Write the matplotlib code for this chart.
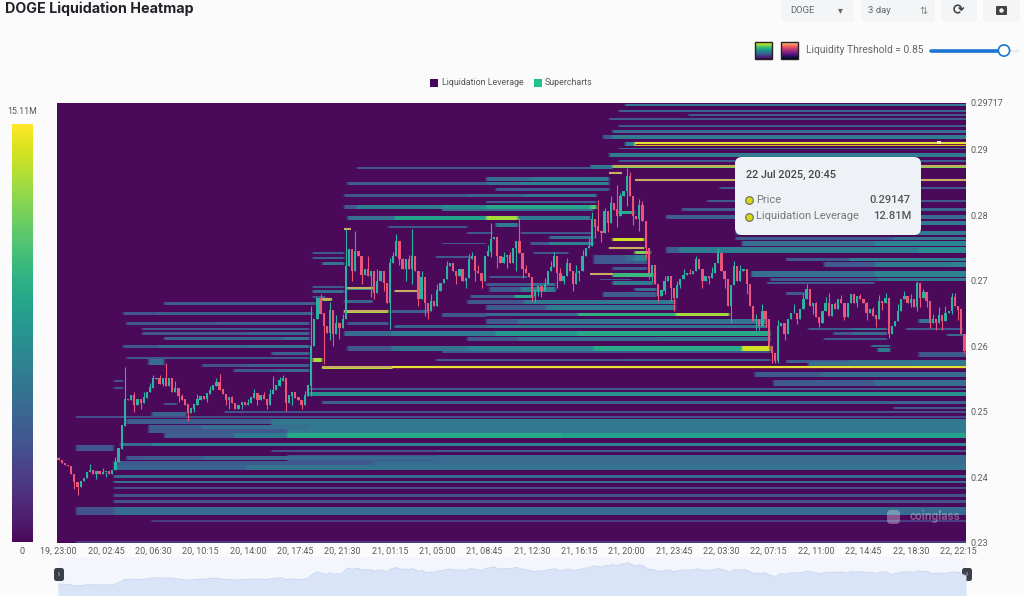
import numpy as np
import matplotlib
matplotlib.use("Agg")
import matplotlib.pyplot as plt
from matplotlib.patches import FancyBboxPatch, Rectangle, Circle

W, H = 1024, 596
FONT = "Roboto"
plt.rcParams["font.family"] = [FONT, "DejaVu Sans"]

# ---------- data ----------
closes = [
 .2426,.2422,.2419,.2417,.2405,.2393,.2385,.2394,.2399,.2408,.2411,.2406,.2409,.2405,.2408,.2409,.2405,.2411,.2423,.2444,.2479,
 .2520,.2518,.2526,.2510,.2520,.2513,.2522,.2530,.2537,.2551,
 .2552,.2542,.2552,.2540,.2551,.2530,.2536,.2524,.2519,.2511,
 .2498,.2505,.2511,.2519,.2524,.2520,.2528,.2533,.2540,.2545,
 .2534,.2527,.2519,.2522,.2513,.2505,.2510,.2514,.2510,.2513,
 .2522,.2528,.2519,.2525,.2520,.2511,.2527,.2533,.2540,.2548,
 .2551,.2514,.2525,.2530,.2522,.2518,.2511,.2525,.2540,.2601,
 .2642,.2674,.2650,.2631,.2621,.2655,.2619,.2636,.2628,.2642,
 .2723,.2748,.2715,.2745,.2738,.2709,.2718,.2707,.2715,.2682,
 .2700,.2715,.2697,.2666,.2727,.2738,.2761,.2733,.2718,.2733,
 .2718,.2738,.2715,.2672,.2706,.2666,.2654,.2669,.2662,.2685,
 .2697,.2703,.2723,.2727,.2715,.2707,.2718,.2700,.2704,.2733,
 .2738,.2715,.2712,.2700,.2738,.2745,.2764,.2767,.2738,.2727,
 .2736,.2739,.2727,.2750,.2761,.2742,.2718,.2712,.2706,.2677,
 .2685,.2692,.2685,.2695,.2715,.2721,.2738,.2712,.2700,.2707,
 .2727,.2715,.2695,.2712,.2715,.2738,.2750,.2753,.2794,.2783,
 .2776,.2773,.2806,.2788,.2818,.2809,.2799,.2829,.2837,.2859,
 .2829,.2799,.2794,.2815,.2791,.2750,.2712,.2724,.2695,.2677,
 .2685,.2700,.2707,.2689,.2674,.2694,.2703,.2709,.2712,.2710,
 .2715,.2733,.2718,.2700,.2707,.2704,.2712,.2727,.2742,.2715,
 .2703,.2662,.2694,.2723,.2700,.2715,.2718,.2695,.2662,.2639,
 .2642,.2631,.2654,.2642,.2601,.2590,.2578,.2631,.2636,.2619,
 .2642,.2651,.2651,.2642,.2657,.2672,.2688,.2662,.2666,.2645,
 .2636,.2654,.2666,.2647,.2665,.2657,.2672,.2666,.2645,.2666,
 .2680,.2666,.2677,.2672,.2666,.2651,.2657,.2647,.2642,.2669,
 .2666,.2674,.2619,.2631,.2639,.2654,.2672,.2677,.2666,.2672,
 .2660,.2697,.2674,.2682,.2669,.2636,.2642,.2636,.2648,.2639,
 .2651,.2654,.2675,.2662,.2656,.2619,.2593]
first_open = .2430

high_bars   = [0,21,30,34,37,51,68,71,80,83,91,94,98,101,105,107,112,115,130,131,137,146,150,157,169,171,175,177,180,181,185,187,190,202,209,214,225,228,237,243,254,272,283,
 10,14,18,24,27,29,32,36,39,44,48,50,55,60,62,65,67,70,75,78,86,88,90,93,96,100,103,106,109,111,113,118,120,123,125,128,133,136,139,141,143,148,154,156,159,161,164,166,168,173,178,184,189,192,196,198,200,203,207,211,216,218,221,223,230,233,236,240,244,246,248,252,256,258,260,262,266,268,270,274,277,279,281,284,286]
high_prices = [.2432,.2568,.2557,.2575,.2548,.2558,.2555,.2556,.2662,.2680,.2779,.2776,.2738,.2718,.2735,.2771,.2779,.2715,.2741,.2745,.2788,.2796,.2698,.2745,.2805,.2824,.2830,.2847,.2872,.2866,.2822,.2735,.2690,.2738,.2750,.2730,.2620,.2640,.2695,.2675,.2680,.2700,.2682,
 .2420,.2415,.2432,.2530,.2530,.2545,.2556,.2545,.2528,.2527,.2540,.2552,.2525,.2520,.2535,.2530,.2535,.2553,.2530,.2532,.2668,.2648,.2650,.2740,.2730,.2700,.2710,.2745,.2735,.2740,.2735,.2680,.2695,.2730,.2725,.2715,.2725,.2755,.2755,.2745,.2745,.2725,.2705,.2730,.2720,.2735,.2725,.2748,.2765,.2812,.2835,.2825,.2705,.2708,.2700,.2718,.2718,.2725,.2722,.2715,.2725,.2718,.2650,.2665,.2630,.2665,.2680,.2668,.2682,.2668,.2678,.2676,.2668,.2660,.2678,.2682,.2665,.2684,.2680,.2688,.2650,.2660,.2662,.2682,.2640]
low_bars    = [5,6,21,41,54,72,80,84,87,89,91,96,100,105,114,116,117,137,145,151,152,170,172,177,184,187,190,195,213,222,225,227,228,241,263,272,276,287,
 9,12,15,24,26,33,38,43,47,53,58,63,66,74,77,86,93,99,103,108,110,112,118,120,126,129,132,134,139,142,147,150,153,158,160,163,165,174,180,182,186,188,192,194,197,204,206,211,218,221,224,226,230,234,239,242,245,249,253,256,259,261,264,266,270,273,275,278,280,283,285]
low_prices  = [.2382,.2373,.2480,.2487,.2505,.2501,.2525,.2574,.2600,.2612,.2644,.2695,.2672,.2627,.2662,.2647,.2642,.2736,.2715,.2668,.2677,.2765,.2760,.2783,.2776,.2703,.2670,.2654,.2636,.2625,.2595,.2575,.2575,.2630,.2613,.2654,.2628,.2590,
 .2400,.2398,.2400,.2500,.2505,.2540,.2515,.2500,.2515,.2510,.2505,.2510,.2505,.2510,.2505,.2610,.2700,.2675,.2685,.2725,.2700,.2695,.2655,.2675,.2695,.2690,.2700,.2690,.2720,.2720,.2705,.2670,.2675,.2690,.2695,.2685,.2700,.2775,.2815,.2785,.2735,.2700,.2680,.2670,.2690,.2690,.2695,.2690,.2680,.2625,.2630,.2575,.2610,.2635,.2650,.2640,.2650,.2640,.2660,.2640,.2630,.2655,.2620,.2640,.2660,.2660,.2660,.2625,.2625,.2650,.2640]

# heat bands: (price, price span, last bar, [(first bar, leverage in M), ...])
bands_top = [
 (.2969,.0002,288,[(180,6)]),
 (.2960,.0002,288,[(178,4.5)]),
 (.2954,.0002,288,[(200,4)]),
 (.2948,.0002,288,[(175,4)]),
 (.2937,.0002,288,[(178,4)]),
 (.2929,.0003,288,[(176,5)]),
 (.2920,.0005,288,[(173,4),(176,6)]),
 (.2910,.0004,288,[(180,6.5),(183,14.5)]),
 (.2903,.0002,288,[(178,5)]),
 (.2893,.0004,288,[(175,6)]),
 (.2884,.0002,288,[(178,4)]),
 (.2876,.0004,288,[(169,6),(176,12)]),
 (.2843,.0002,288,[(210,4)]),
 (.2823,.0002,288,[(206,4)]),
 (.2810,.0003,288,[(198,4),(265,4.8)]),
 (.2799,.0005,288,[(193,4.2),(265,4.8)]),
 (.2789,.0006,288,[(215,4),(265,6)]),
 (.2774,.0004,288,[(215,4),(265,6)]),
 (.2766,.0003,288,[(215,4),(265,5.5)]),
 (.2758,.0007,288,[(217,5.2),(259,6.5)]),
 (.2748,.0008,288,[(193,4.2),(197,6),(273,7)]),
]
bands_right = [
 (.2733,.0004,288,[(231,4),(251,6.3)]),
 (.2726,.0006,288,[(243,4),(259,6),(283,6.5)]),
 (.2712,.0008,288,[(220,5.2),(259,6.6)]),
 (.2703,.0004,288,[(226,4),(260,6)]),
 (.2698,.0002,259,[(225,4.2)]),
 (.2682,.0003,237,[(231,4)]),
 (.2628,.0002,263,[(238,4),(252,5.5)]),
 (.2621,.0003,263,[(246,4),(252,5)]),
 (.2612,.0002,263,[(243,4)]),
 (.2601,.0002,264,[(258,5)]),
 (.2596,.0005,264,[(260,6)]),
 (.2640,.0005,277,[(273,5.5)]),
 (.2627,.0002,287,[(269,4)]),
 (.2618,.0002,287,[(282,5)]),
 (.2589,.0007,288,[(273,4)]),
 (.2578,.0003,288,[(231,4),(251,5.5)]),
 (.2574,.0006,288,[(238,5.5),(270,6)]),
]
bands_low = [
 (.2481,.0018,288,[(68,5.5)]),
 (.2424,.0020,288,[(73,3.8),(120,4.8)]),
 (.2568,.0003,288,[(84,13.5)]),
 (.2558,.0006,288,[(221,4),(242,5)]),
 (.2545,.0008,288,[(227,4),(259,5.3)]),
 (.2536,.0003,288,[(80,4)]),
 (.2528,.0006,288,[(80,7.5)]),
 (.2515,.0003,288,[(84,4.5)]),
 (.2507,.0002,288,[(265,3.8)]),
 (.2501,.0002,288,[(53,3.5)]),
 (.2493,.0002,288,[(6,3.2)]),
 (.2486,.0007,288,[(22,4.2),(68,5.8)]),
 (.2478,.0006,288,[(29,4.3),(46,5.3),(80,6)]),
 (.2472,.0005,288,[(29,4),(73,5.8)]),
 (.2465,.0006,288,[(34,4.2),(56,6),(73,9),(160,8.5)]),
 (.2451,.0004,288,[(20,5),(30,6.5)]),
 (.2446,.0008,18,[(6,3.7)]),
 (.2441,.0003,288,[(68,3.5),(120,4)]),
 (.2431,.0005,288,[(22,3.8),(27,4.2),(46,5)]),
 (.2423,.0004,288,[(18,4),(100,5)]),
 (.2416,.0008,288,[(18,4.5),(60,5.5)]),
 (.2402,.0003,288,[(18,5)]),
 (.2394,.0003,288,[(18,5.2)]),
 (.2385,.0002,288,[(18,3.5)]),
 (.2373,.0003,288,[(18,3.5)]),
 (.2364,.0003,288,[(18,3.5)]),
 (.2350,.0011,288,[(6,3.5),(18,5)]),
 (.2335,.0002,288,[(30,2.5)]),
 (.2303,.0002,288,[(6,2.5)]),
]
bands_left = [
 (.2744,.0002,91,[(81,4)]),
 (.2736,.0002,91,[(81,4.2)]),
 (.2727,.0004,91,[(84,5.5)]),
 (.2691,.0002,91,[(81,4)]),
 (.2685,.0003,91,[(81,5)]),
 (.2677,.0002,85,[(81,3.8)]),
 (.2666,.0003,82,[(34,4.3)]),
 (.2651,.0004,81,[(21,3.7),(32,4.5)]),
 (.2636,.0003,80,[(22,3.8),(50,4.2)]),
 (.2628,.0002,80,[(27,4)]),
 (.2621,.0003,80,[(27,3.8),(60,4.6)]),
 (.2613,.0004,80,[(34,4.5),(72,5.5)]),
 (.2601,.0003,80,[(21,3.8),(32,5),(60,5.5)]),
 (.2590,.0003,80,[(68,4.5)]),
 (.2583,.0003,80,[(22,3.8)]),
 (.2577,.0008,34,[(29,5)]),
 (.2572,.0003,80,[(46,3.5),(60,4.2)]),
 (.2564,.0003,80,[(56,4),(70,4.8)]),
 (.2580,.0004,84,[(81,13)]),
 (.2498,.0006,41,[(30,4.5)]),
 (.2513,.0002,38,[(34,3.8)]),
 (.2548,.0002,21,[(18,3.5)]),
 (.2538,.0002,21,[(18,3.5)]),
]
bands_upper_mid = [
 (.2873,.0003,176,[(95,3.8),(169,5.5)]),
 (.2856,.0005,175,[(136,5),(150,6)]),
 (.2850,.0003,175,[(92,4.2),(136,5.5),(147,6.5)]),
 (.2840,.0003,175,[(139,4)]),
 (.2831,.0004,171,[(91,3.8),(130,4.5),(148,5.5)]),
 (.2821,.0002,171,[(136,4)]),
 (.2814,.0005,171,[(91,4),(95,6.2),(122,7.2),(136,8.8),(169,11)]),
 (.2809,.0003,170,[(122,5)]),
 (.2797,.0006,146,[(92,5.2),(107,8.5),(136,13)]),
 (.2797,.0006,169,[(146,6)]),
 (.2783,.0002,130,[(105,3.8)]),
 (.2786,.0006,146,[(139,6)]),
 (.2774,.0002,138,[(130,3.8)]),
 (.2774,.0002,170,[(147,3.8)]),
 (.2767,.0003,170,[(156,5)]),
 (.2758,.0002,136,[(122,3.8)]),
 (.2758,.0005,170,[(150,4),(156,6.5)]),
 (.2744,.0002,162,[(151,3.8)]),
 (.2737,.0002,131,[(120,4)]),
]
bands_lower_mid = [
 (.2707,.0002,149,[(137,4)]),
 (.2695,.0003,158,[(136,3.8),(150,5)]),
 (.2688,.0006,158,[(137,3.8),(147,6)]),
 (.2677,.0003,151,[(131,4),(145,9)]),
 (.2669,.0005,196,[(130,3.8),(148,6)]),
 (.2660,.0006,196,[(136,4),(155,6)]),
 (.2650,.0004,213,[(122,3.8),(136,5),(165,9.5),(196,13)]),
 (.2639,.0007,225,[(136,4),(146,5.5)]),
 (.2631,.0004,225,[(107,4.5),(136,5.5)]),
 (.2621,.0007,226,[(91,5),(106,6),(139,8),(165,9)]),
 (.2612,.0004,226,[(130,3.8),(146,5),(190,5.5)]),
 (.2598,.0006,226,[(92,3.8),(106,5.5),(130,6.5),(170,9),(217,14)]),
 (.2592,.0002,226,[(122,3.8)]),
 (.2580,.0003,226,[(120,3.8),(180,4.5)]),
]
bands_stubs = [
 (.2764,.0003,186,[(176,14)]),
 (.2751,.0003,186,[(175,12)]),
 (.2744,.0004,188,[(183,12)]),
 (.2736,.0008,187,[(170,3.8),(180,5),(183,6.5)]),
 (.2729,.0003,187,[(170,4)]),
 (.2720,.0003,187,[(176,4)]),
 (.2710,.0004,189,[(176,10)]),
 (.2703,.0002,182,[(172,3.8)]),
 (.2697,.0005,189,[(176,6)]),
 (.2688,.0003,190,[(183,5)]),
 (.2680,.0007,190,[(173,4.2)]),
 (.2805,.0004,183,[(178,9)]),
 (.2689,.0002,100,[(92,7)]),
 (.2669,.0003,100,[(91,4.5)]),
 (.2654,.0003,105,[(91,13)]),
 (.2654,.0003,118,[(106,4.2)]),
 (.2636,.0003,105,[(92,4)]),
 (.2648,.0002,136,[(122,3.8)]),
 (.2685,.0002,114,[(107,12)]),
 (.2672,.0002,87,[(84,12)]),
]
# thin levels that appear tan in the reference: (price, first bar, last bar)
tan_levels = [(.2876,176,288),(.2854,183,288),(.2865,175,179),(.2751,175,186),(.2710,169,176),
              (.2685,107,114),(.2654,91,105),(.2689,92,100),(.2672,84,87),(.2568,84,106),(.2779,91,93)]
# brightest levels, yellow with a dark red fringe: (price, first bar)
yellow_levels = [(.2568,106),(.2910,183)]

x_labels = ["19, 23:00","20, 02:45","20, 06:30","20, 10:15","20, 14:00","20, 17:45","20, 21:30",
            "21, 01:15","21, 05:00","21, 08:45","21, 12:30","21, 16:15","21, 20:00","21, 23:45",
            "22, 03:30","22, 07:15","22, 11:00","22, 14:45","22, 18:30","22, 22:15"]
y_ticks = [.23,.24,.25,.26,.27,.28,.29,.29717]
y_labels = ["0.23","0.24","0.25","0.26","0.27","0.28","0.29","0.29717"]
max_leverage = 15.11
price_min, price_max = .23, .29717

# ---------- figure ----------
def rect(x0, y0, x1, y1):
    return [x0 / W, 1 - y1 / H, (x1 - x0) / W, (y1 - y0) / H]

fig = plt.figure(figsize=(W / 100, H / 100), dpi=100, facecolor="#fbfbfc")
ax = fig.add_axes(rect(57, 103, 966, 543), facecolor="white")

nrow = 440
price_edges = np.linspace(price_min, price_max, nrow + 1)
M = np.zeros((nrow, len(closes)))
for group in (bands_top, bands_right, bands_low, bands_left, bands_upper_mid, bands_lower_mid, bands_stubs):
    for price, span, last, runs in group:
        half = (span + .0001) / 2
        r0 = np.searchsorted(price_edges, price - half) - 1
        r1 = max(np.searchsorted(price_edges, price + half) - 1, r0 + 1)
        for k, (start, val) in enumerate(runs):
            stop = runs[k + 1][0] if k + 1 < len(runs) else last
            M[max(r0, 0):r1, start:stop] = val

im = ax.imshow(M, origin="lower", aspect="auto", cmap="viridis", vmin=0, vmax=max_leverage,
               extent=(-.5, len(closes) - .5, price_min, price_max), interpolation="bilinear", zorder=1, alpha=.97)

for price, b0 in yellow_levels:
    ax.hlines(price, b0 - .5, len(closes) - .5, color="#701544", lw=2.4, zorder=1.5)
    ax.hlines(price, b0 - .5, len(closes) - .5, color="#e6e03a", lw=1.5, zorder=1.6)
for price, b0, b1 in tan_levels:
    ax.hlines(price, b0 - .5, b1 - .5, color="#c9ad62", lw=1.5, zorder=2)

# candles
c = np.array(closes)
o = np.r_[first_open, c[:-1]]
hi = np.maximum(o, c)
lo = np.minimum(o, c)
for b, p in zip(high_bars, high_prices):
    hi[b] = max(hi[b], p)
for b, p in zip(low_bars, low_prices):
    lo[b] = min(lo[b], p)
bars = np.arange(len(c))
col = np.where(c >= o, "#2ab3a0", "#ec5578")
ax.vlines(bars, lo, hi, colors=col, lw=.8, zorder=3)
ax.bar(bars, np.abs(c - o) + .00005, bottom=np.minimum(o, c), width=.72, color=col, lw=0, zorder=4)

ax.set_xlim(-.5, len(closes) - .5)
ax.set_ylim(price_min, price_max)
ax.yaxis.tick_right()
ax.set_yticks(y_ticks, y_labels, fontsize=6.5, color="#5c5c5c")
ax.set_xticks(np.arange(len(x_labels)) * 15, x_labels, fontsize=6.5, color="#5c5c5c")
ax.tick_params(length=0, pad=3)
for s in ax.spines.values():
    s.set_visible(False)

# watermark
ax.text(.9934, .061, "coinglass", transform=ax.transAxes, ha="right", va="center",
        fontsize=8.5, fontweight="bold", color="#ffffff", alpha=.32, zorder=5)

# colour bar
cax = fig.add_axes(rect(12, 124, 33, 542))
cb = fig.colorbar(im, cax=cax)
cb.set_ticks([])
cb.outline.set_visible(False)

# navigator strip under the chart
nav = fig.add_axes(rect(58, 562, 966, 596))
nav.fill_between(bars, c, .2182, color="#d9e4f8", lw=0)
nav.plot(bars, c, color="#c9d6ee", lw=.7)
nav.set_xlim(0, len(c) - 1)
nav.set_ylim(.2182, .2872)
nav.axis("off")

# page furniture, in pixel coordinates
ui = fig.add_axes([0, 0, 1, 1], facecolor="none")
ui.set_xlim(0, W)
ui.set_ylim(H, 0)
ui.axis("off")
ui.add_patch(Rectangle((58, 557), 908, 39, color="#f3f6fc", lw=0, zorder=0))
nav.set_zorder(ui.get_zorder() + 1)
ui.text(5, 9, "DOGE Liquidation Heatmap", fontsize=10.3, fontweight="bold", color="#1f2328", va="center", family="Inter")

def box(x0, y0, x1, y1, fc="#f3f5f7", r=3, ec="none", z=1, lw=0):
    ui.add_patch(FancyBboxPatch((x0 + r, y0 + r), x1 - x0 - 2 * r, y1 - y0 - 2 * r,
                                boxstyle=f"round,pad={r},rounding_size={r}", fc=fc, ec=ec, lw=lw, zorder=z))

box(781, -4, 854, 22); box(861, -4, 935, 22); box(941, -4, 977, 22); box(983, -4, 1020, 22)
ui.text(790, 10.5, "DOGE", fontsize=6.8, color="#5f6670", va="center")
ui.text(868, 10.5, "3 day", fontsize=6.8, color="#5f6670", va="center")
ui.text(840, 10.5, "▾", fontsize=7, color="#666", ha="center", va="center", family="DejaVu Sans")
ui.text(923, 10.5, "⇅", fontsize=7, color="#888", ha="center", va="center", family="DejaVu Sans")
ui.text(959, 10.5, "⟳", fontsize=10, color="#444", ha="center", va="center", family="DejaVu Sans", fontweight="bold")
box(996, 6, 1007, 15, fc="#444", r=1, z=2)
ui.add_patch(Circle((1001.5, 10.5), 2.2, fc="#f3f5f7", ec="none", zorder=3))

grad = np.linspace(0, 1, 32)[:, None]
ui.imshow(grad, extent=(755, 772, 59, 42), cmap="viridis_r", aspect="auto", zorder=2)
ui.imshow(grad, extent=(781, 798, 59, 42), cmap="magma_r", aspect="auto", zorder=2, vmin=-.15, vmax=1.05)
ui.set_xlim(0, W); ui.set_ylim(H, 0)
ui.add_patch(Rectangle((755, 42), 17, 17, fc="none", ec="#222", lw=1, zorder=3))
ui.add_patch(Rectangle((781, 42), 17, 17, fc="none", ec="#222", lw=1, zorder=3))
ui.text(806, 50, "Liquidity Threshold = 0.85", fontsize=7.4, color="#666", va="center")
ui.plot([931, 1003], [50.5, 50.5], color="#1976d2", lw=2.6, solid_capstyle="round", zorder=2)
ui.plot([1003, 1018], [50.5, 50.5], color="#e8ecf1", lw=1.6, zorder=1)
ui.add_patch(Circle((1004, 50.5), 5.6, fc="#ffffff", ec="#1976d2", lw=1.2, zorder=3))

ui.add_patch(Rectangle((430, 78.5), 8, 8, color="#44045e", lw=0))
ui.text(442, 82.5, "Liquidation Leverage", fontsize=6.4, color="#555", va="center")
ui.add_patch(Rectangle((534, 78.5), 8, 8, color="#1fc48a", lw=0))
ui.text(545, 82.5, "Supercharts", fontsize=6.4, color="#555", va="center")

ui.text(22, 111, "15.11M", fontsize=6.3, color="#555", ha="center", va="center")
ui.text(22, 552, "0", fontsize=6.5, color="#555", ha="center", va="center")

# tooltip
box(735, 157, 921, 235, fc="#eef2f6", r=7, z=8)
ui.text(746, 175, "22 Jul 2025, 20:45", fontsize=7.8, color="#444", va="center", zorder=9, fontweight="medium")
for yy in (200, 217):
    ui.plot([749], [yy], "o", ms=5.5, mfc="#d8d815", mec="#666", mew=.8, zorder=9)
ui.text(756, 200, "Price", fontsize=8, color="#777", va="center", zorder=9)
ui.text(756, 216, "Liquidation Leverage", fontsize=8, color="#777", va="center", zorder=9)
ui.text(911, 200, "0.29147", fontsize=8, color="#555", va="center", ha="right", zorder=9, fontweight="medium")
ui.text(911, 216, "12.81M", fontsize=8, color="#555", va="center", ha="right", zorder=9, fontweight="medium")

# small white marker on the yellow line, watermark badge, slider handles
ui.add_patch(Rectangle((937, 140.5), 4, 3, color="#fff7c8", lw=0, zorder=6))
ui.add_patch(FancyBboxPatch((888, 511), 11, 12, boxstyle="round,pad=1,rounding_size=4",
                            fc="#ffffff", ec="none", alpha=.32, zorder=6))
for hx in (59, 967):
    box(hx - 5, 568, hx + 5, 581, fc="#3a3f4a", r=2.5, z=7)
    ui.text(hx, 574.5, "II", fontsize=4, color="#9aa0aa", ha="center", va="center", zorder=8)

fig.savefig("out.png", dpi=100, facecolor=fig.get_facecolor())
